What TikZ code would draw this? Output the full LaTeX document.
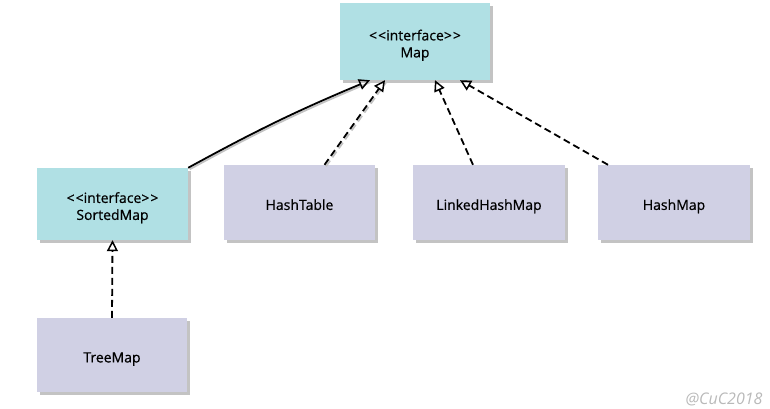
\documentclass[tikz,border=0pt]{standalone}
\usepackage{fontspec}
\setmainfont{Open Sans}
\newfontfamily\boxfont{Open Sans}[UprightFeatures={FakeBold=0.6}]
\usetikzlibrary{arrows.meta,calc}
\definecolor{ifill}{RGB}{176,224,228}
\definecolor{cfill}{RGB}{208,208,228}
\definecolor{shad}{RGB}{195,195,195}
\definecolor{wmark}{RGB}{185,185,185}
\tikzset{
  box/.style={draw=none,minimum width=151pt,minimum height=75pt,align=center,font=\boxfont\fontsize{14}{17}\selectfont,inner sep=0pt,
    preaction={fill=shad,transform canvas={shift={(3pt,-3pt)}}}},
  iface/.style={box,fill=ifill},
  cls/.style={box,fill=cfill},
  real/.style={draw=black,line width=1.8pt,dashed,dash pattern=on 7pt off 4pt,-{Triangle[open,length=11pt,width=11pt,line width=1.5pt]}},
  ext/.style={draw=black,line width=1.8pt,-{Triangle[open,length=11pt,width=11pt,line width=1.5pt]}},
  lshadow/.style={draw=shad,line width=1.8pt,transform canvas={shift={(1.5pt,-1.5pt)}}}
}
\newcommand{\ifc}{{<}\kern1pt{<}interface{>}\kern1pt{>}}
\newcommand{\lbl}[1]{\raisebox{-4pt}[\height][\depth]{\begin{tabular}{@{}c@{}}#1\end{tabular}}}
\begin{document}
\begin{tikzpicture}[x=1pt,y=-1pt]
\useasboundingbox (0,0) rectangle (770,409);
\node[iface,minimum width=150pt,minimum height=77pt] (map) at (415,41.5) {\lbl{\ifc\\Map}};
\node[iface,minimum height=72pt] (sm) at (112.5,204) {\lbl{\ifc\\SortedMap}};
\node[cls] (ht) at (299.5,202.5) {\lbl{HashTable}};
\node[cls,minimum width=152pt] (lhm) at (489,202.5) {\lbl{LinkedHashMap}};
\node[cls,minimum width=152pt] (hm) at (674,202.5) {\lbl{HashMap}};
\node[cls,minimum width=150pt,minimum height=74pt] (tm) at (112,355) {\lbl{TreeMap}};
% shadows of connectors
\draw[lshadow] (sm.north east) to[bend left=3] ([xshift=-45pt]map.south);
\draw[lshadow,dashed,dash pattern=on 7pt off 4pt] ([xshift=25pt]ht.north) -- ([xshift=-30pt]map.south);
% connectors
\draw[ext] (sm.north east) to[bend left=3] ([xshift=-45pt]map.south);
\draw[real] ([xshift=25pt]ht.north) -- ([xshift=-30pt]map.south);
\draw[real] ([xshift=-16pt]lhm.north) -- ([xshift=20pt]map.south);
\draw[real] ([xshift=-66pt]hm.north) -- ([xshift=45pt]map.south);
\draw[real] (tm.north) -- (sm.south);
\node[text=wmark,font=\itshape\fontsize{16}{16}\selectfont,anchor=east] (wm) at (766,399) {@CuC2018};
\end{tikzpicture}
\end{document}
